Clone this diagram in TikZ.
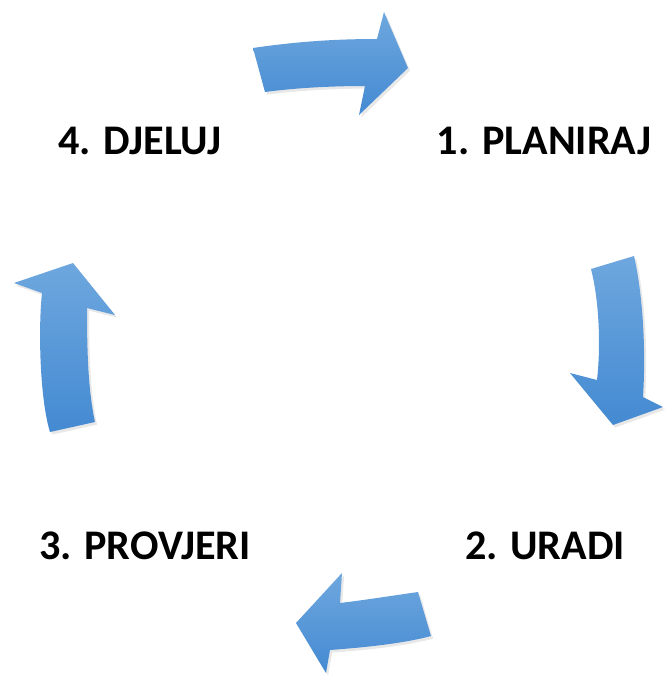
\documentclass[tikz,border=0pt]{standalone}
\usepackage{fontspec}
\setmainfont{Carlito}
\usetikzlibrary{shadows}
\definecolor{arrowtop}{RGB}{110,167,222}
\definecolor{arrowbottom}{RGB}{68,138,210}
\tikzset{
  cyclearrow/.style={top color=arrowtop, bottom color=arrowbottom, draw=none,
    drop shadow={opacity=0.18, shadow xshift=1.2pt, shadow yshift=-1.5pt}},
  steplabel/.style={font=\bfseries\fontsize{24}{28}\selectfont, inner sep=0pt}
}

\begin{document}
\begin{tikzpicture}[x=0.02cm, y=-0.02cm]
  \useasboundingbox (0,0) rectangle (664,677);

  % 1. Flechas del ciclo
  % arriba, hacia la derecha
  \path[cyclearrow] (253,48) .. controls (300,41) and (340,39) .. (377,39)
    -- (384,12) -- (408,68) -- (359,115) -- (365,86)
    .. controls (330,86) and (295,88) .. (265,92) -- cycle;
  % derecha, hacia abajo
  \path[cyclearrow] (591,269) .. controls (599,300) and (601,345) .. (597,380)
    -- (570,373) -- (613,425) -- (663,407) -- (643,397)
    .. controls (646,350) and (643,295) .. (634,256) -- cycle;
  % abajo, hacia la izquierda
  \path[cyclearrow] (418,592) .. controls (390,596) and (365,600) .. (340,603)
    -- (342,573) -- (296,623) -- (326,673) -- (330,650)
    .. controls (370,647) and (405,643) .. (431,636) -- cycle;
  % izquierda, hacia arriba
  \path[cyclearrow] (50,432) .. controls (40,400) and (38,330) .. (42,293)
    -- (14,283) -- (73,263) -- (115,315) -- (87,308)
    .. controls (87,350) and (88,390) .. (95,422) -- cycle;

  % 2. Etiquetas
  \node[steplabel] (planiraj) at (544,141) {1. PLANIRAJ};
  \node[steplabel] (uradi) at (545,546) {2. URADI};
  \node[steplabel] (provjeri) at (145,546) {3. PROVJERI};
  \node[steplabel] (djeluj) at (140,141) {4. DJELUJ};
\end{tikzpicture}
\end{document}
